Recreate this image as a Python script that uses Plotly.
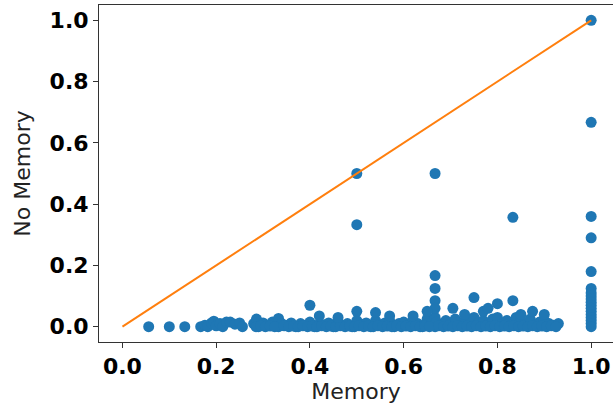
import plotly.graph_objects as go

# Outlier points (Memory, No Memory)
outlier_memory = [0.5, 0.5, 0.667, 0.667, 0.667, 0.667, 0.667, 0.833, 0.833, 0.4, 0.75, 0.8, 0.705, 0.5, 0.54, 0.65, 0.875, 0.9, 0.42, 0.46, 0.57, 0.62, 0.73, 0.77, 0.78, 0.85]
outlier_no_memory = [0.5, 0.333, 0.5, 0.167, 0.125, 0.085, 0.06, 0.357, 0.085, 0.07, 0.095, 0.075, 0.06, 0.05, 0.046, 0.05, 0.05, 0.04, 0.035, 0.03, 0.035, 0.035, 0.04, 0.05, 0.06, 0.04]

# Column at Memory = 1.0
col_memory = [1.0, 1.0, 1.0, 1.0, 1.0, 1.0, 1.0, 1.0, 1.0, 1.0, 1.0, 1.0, 1.0, 1.0, 1.0, 1.0, 1.0, 1.0]
col_no_memory = [1.0, 0.667, 0.36, 0.29, 0.18, 0.125, 0.11, 0.1, 0.09, 0.08, 0.07, 0.06, 0.05, 0.04, 0.03, 0.02, 0.01, 0.0]

# Low band near zero
band_memory = [0.056, 0.1, 0.133, 0.167, 0.176, 0.182, 0.19, 0.195, 0.2, 0.208, 0.214, 0.222, 0.23, 0.24, 0.25, 0.256,
               0.28, 0.286, 0.29, 0.3, 0.31, 0.32, 0.333, 0.333, 0.34, 0.35, 0.36, 0.37, 0.38, 0.39, 0.4, 0.41, 0.42,
               0.43, 0.44, 0.45, 0.46, 0.47, 0.48, 0.49, 0.5, 0.51, 0.52, 0.53, 0.54, 0.55, 0.56, 0.57, 0.58, 0.59,
               0.6, 0.61, 0.62, 0.63, 0.64, 0.65, 0.66, 0.667, 0.667, 0.67, 0.68, 0.69, 0.7, 0.71, 0.72, 0.73, 0.74,
               0.75, 0.76, 0.77, 0.78, 0.79, 0.8, 0.81, 0.82, 0.83, 0.84, 0.85, 0.86, 0.87, 0.88, 0.89, 0.9, 0.91,
               0.92, 0.93,
               0.285, 0.295, 0.305, 0.315, 0.325, 0.345, 0.355, 0.365, 0.375, 0.385, 0.395, 0.405, 0.415, 0.425,
               0.435, 0.445, 0.455, 0.465, 0.475, 0.485, 0.495, 0.505, 0.515, 0.525, 0.535, 0.545, 0.555, 0.565,
               0.575, 0.585, 0.595, 0.605, 0.615, 0.625, 0.635, 0.645, 0.655, 0.675, 0.685, 0.695, 0.705, 0.715,
               0.725, 0.735, 0.745, 0.755, 0.765, 0.775, 0.785, 0.795, 0.805, 0.815, 0.825, 0.835, 0.845, 0.855,
               0.865, 0.875, 0.885, 0.895, 0.905, 0.915, 0.925]
band_no_memory = [0.0, 0.0, 0.0, 0.0, 0.005, 0.0, 0.012, 0.018, 0.003, 0.01, 0.0, 0.015, 0.015, 0.008, 0.012, 0.0,
                  0.01, 0.025, 0.0, 0.012, 0.005, 0.015, 0.027, 0.0, 0.01, 0.004, 0.012, 0.0, 0.01, 0.005, 0.015, 0.0,
                  0.01, 0.006, 0.012, 0.0, 0.015, 0.005, 0.01, 0.0, 0.02, 0.008, 0.012, 0.0, 0.02, 0.005, 0.012, 0.02,
                  0.0, 0.01, 0.015, 0.005, 0.02, 0.01, 0.0, 0.025, 0.012, 0.03, 0.0, 0.015, 0.005, 0.02, 0.01, 0.025,
                  0.005, 0.02, 0.01, 0.03, 0.015, 0.02, 0.005, 0.025, 0.03, 0.01, 0.02, 0.005, 0.03, 0.015, 0.01,
                  0.025, 0.005, 0.015, 0.02, 0.01, 0.005, 0.01,
                  0.0, 0.003, 0.0, 0.002, 0.0, 0.003, 0.0, 0.002, 0.0, 0.003, 0.0, 0.002, 0.0, 0.003,
                  0.0, 0.002, 0.0, 0.003, 0.0, 0.002, 0.0, 0.003, 0.0, 0.002, 0.0, 0.003, 0.0, 0.002,
                  0.0, 0.003, 0.0, 0.002, 0.0, 0.003, 0.0, 0.002, 0.0, 0.003, 0.0, 0.002, 0.0, 0.003,
                  0.0, 0.002, 0.0, 0.003, 0.0, 0.002, 0.0, 0.003, 0.0, 0.002, 0.0, 0.003, 0.0, 0.002,
                  0.0, 0.003, 0.0, 0.002, 0.0, 0.003, 0.0]

# Reference diagonal
diag_x = [0.0, 1.0]
diag_y = [0.0, 1.0]

memory = band_memory + outlier_memory + col_memory
no_memory = band_no_memory + outlier_no_memory + col_no_memory

fig = go.Figure()
fig.add_trace(go.Scatter(x=memory, y=no_memory, mode="markers",
                         marker=dict(color="#1f77b4", size=11, line=dict(width=0)),
                         showlegend=False, cliponaxis=False))
fig.add_trace(go.Scatter(x=diag_x, y=diag_y, mode="lines",
                         line=dict(color="#ff7f0e", width=2), showlegend=False))

tickfont = dict(family="DejaVu Sans", size=22, color="black", weight="bold")
titlefont = dict(family="DejaVu Sans", size=22, color="#222222")

fig.update_layout(
    width=613, height=408,
    margin=dict(l=99, r=0, t=5, b=66),
    plot_bgcolor="white", paper_bgcolor="white",
    xaxis=dict(range=[-0.05, 1.0466], tickvals=[0, 0.2, 0.4, 0.6, 0.8, 1.0],
               ticktext=["0.0", "0.2", "0.4", "0.6", "0.8", "1.0"], automargin=False,
               showgrid=False, zeroline=False, showline=True, linecolor="#333333", linewidth=1,
               mirror=True, ticks="outside", ticklen=5, tickcolor="#333333",
               tickfont=tickfont, title=dict(text="Memory", font=titlefont, standoff=5)),
    yaxis=dict(range=[-0.05, 1.05], tickvals=[0, 0.2, 0.4, 0.6, 0.8, 1.0],
               ticktext=["0.0", "0.2", "0.4", "0.6", "0.8", "1.0"], automargin=False,
               showgrid=False, zeroline=False, showline=True, linecolor="#333333", linewidth=1,
               mirror=False, ticks="outside", ticklen=5, tickcolor="#333333",
               tickfont=tickfont, title=dict(text="No Memory", font=titlefont, standoff=12)),
)

fig.write_html("out.html", config={"displayModeBar": False},
               post_script="document.body.style.margin='0';document.body.style.padding='0';")
